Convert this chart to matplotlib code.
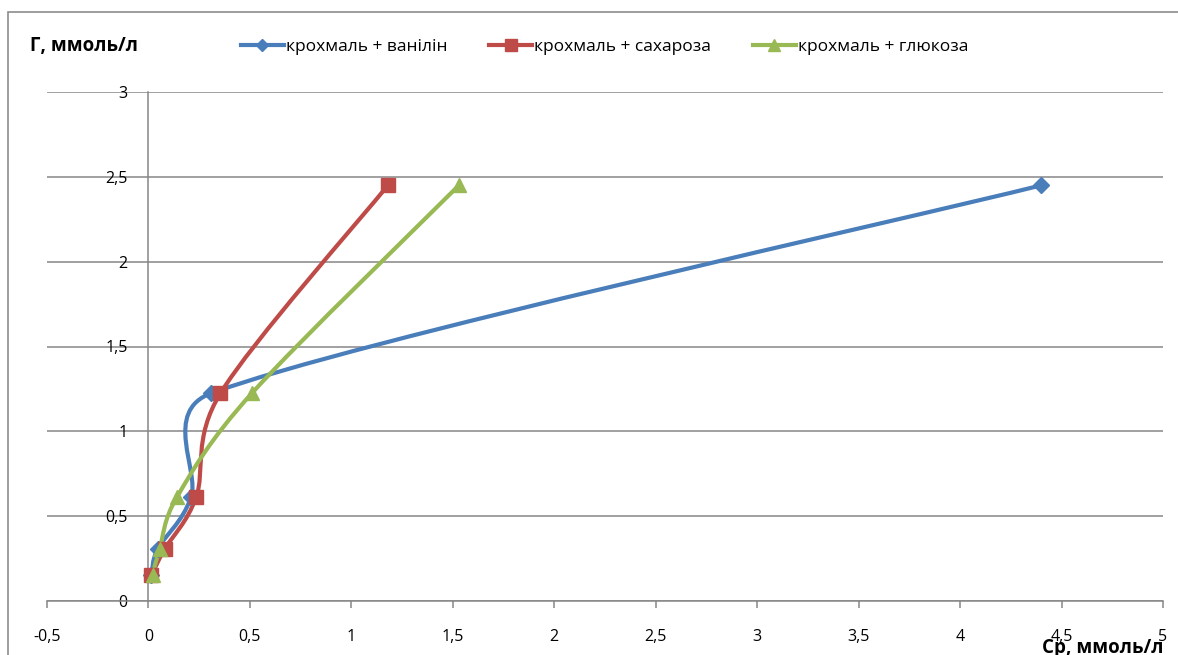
import numpy as np
import matplotlib
matplotlib.use('Agg')
from matplotlib import pyplot as plt
from matplotlib.path import Path
from matplotlib.patches import PathPatch, Rectangle
from matplotlib.lines import Line2D
from matplotlib.ticker import FuncFormatter, MultipleLocator

plt.rcParams['font.family'] = ['Open Sans', 'DejaVu Sans']

# дані
g_values = [0.153, 0.306, 0.612, 1.225, 2.45]
cp_vanilin = [0.015, 0.045, 0.21, 0.31, 4.40]
cp_sucrose = [0.015, 0.08, 0.235, 0.355, 1.18]
cp_glucose = [0.02, 0.055, 0.14, 0.51, 1.53]

series_names = ['крохмаль + ванілін', 'крохмаль + сахароза', 'крохмаль + глюкоза']
series_x = [cp_vanilin, cp_sucrose, cp_glucose]
colors = ['#4A7EBB', '#BE4B48', '#98B954']
markers = ['D', 's', '^']
msizes = [8, 10.5, 10.5]


def comma(v, pos):
    s = ('%g' % v)
    return s.replace('.', ',')


def smooth_path(ax, xs, ys):
    # згладжування як в Excel: кубічні сплайни Безьє в координатах екрана
    pts = ax.transData.transform(np.column_stack([xs, ys]))
    n = len(pts)
    verts = [pts[0]]
    codes = [Path.MOVETO]
    for i in range(n - 1):
        p0 = pts[i - 1] if i > 0 else pts[i]
        p1 = pts[i]
        p2 = pts[i + 1]
        p3 = pts[i + 2] if i + 2 < n else pts[i + 1]
        seg = np.hypot(*(p2 - p1))
        t1 = (p2 - p0) / 6.0
        t2 = (p3 - p1) / 6.0
        for t in (t1, t2):
            ln = np.hypot(*t)
            if ln > seg / 2:
                t *= (seg / 2) / ln
        verts += [p1 + t1, p2 - t2, p2]
        codes += [Path.CURVE4] * 3
    verts = ax.transData.inverted().transform(np.array(verts))
    return Path(verts, codes)


fig = plt.figure(figsize=(11.78, 6.55), dpi=100)
ax = fig.add_axes([47 / 1178, 54 / 655, (1163 - 47) / 1178, (601 - 92) / 655])
ax.set_xlim(-0.5, 5)
ax.set_ylim(0, 3)

grid_c = '#868686'
ax.yaxis.set_major_locator(MultipleLocator(0.5))
ax.xaxis.set_major_locator(MultipleLocator(0.5))
ax.yaxis.set_major_formatter(FuncFormatter(comma))
ax.xaxis.set_major_formatter(FuncFormatter(comma))
ax.grid(axis='y', color=grid_c, linewidth=1.1)
ax.set_axisbelow(True)
for s in ['top', 'right']:
    ax.spines[s].set_visible(False)
ax.spines['left'].set_position(('data', 0))
ax.spines['left'].set_color(grid_c)
ax.spines['bottom'].set_color(grid_c)
ax.spines['left'].set_linewidth(1.1)
ax.spines['bottom'].set_linewidth(1.1)
ax.tick_params(axis='y', length=0, pad=15, labelsize=11.5)
ax.tick_params(axis='x', length=5, width=1.1, color=grid_c, pad=15, labelsize=11.5)

handles = []
for xs, name, c, m, ms in zip(series_x, series_names, colors, markers, msizes):
    path = smooth_path(ax, xs, g_values)
    ax.add_patch(PathPatch(path, fill=False, edgecolor=c, linewidth=3, capstyle='round', zorder=3))
    ax.plot(xs, g_values, linestyle='none', marker=m, markersize=ms, color=c, zorder=4, clip_on=False)
    handles.append(Line2D([], [], color=c, linewidth=3, marker=m, markersize=ms * 0.8, label=name))

fig.legend(handles=handles, loc='center', bbox_to_anchor=(0.513, 0.928), ncol=3, frameon=False,
           fontsize=12.5, handlelength=2.5, handletextpad=0.1, columnspacing=2.4)

fig.text(30 / 1178, 1 - 46 / 655, 'Г, ммоль/л', fontsize=13.5, fontweight='bold', va='center', ha='left')
fig.text(1163 / 1178, 1 - 648 / 655, 'Ср, ммоль/л', fontsize=13.5, fontweight='bold', va='center', ha='right')

# рамка області діаграми
fig.patches.append(Rectangle((8 / 1178, -0.1), 1.2, 1 - 12 / 655 + 0.1, transform=fig.transFigure,
                             fill=False, edgecolor='#8C8C8C', linewidth=1.2))

fig.savefig('out.png', dpi=100)
